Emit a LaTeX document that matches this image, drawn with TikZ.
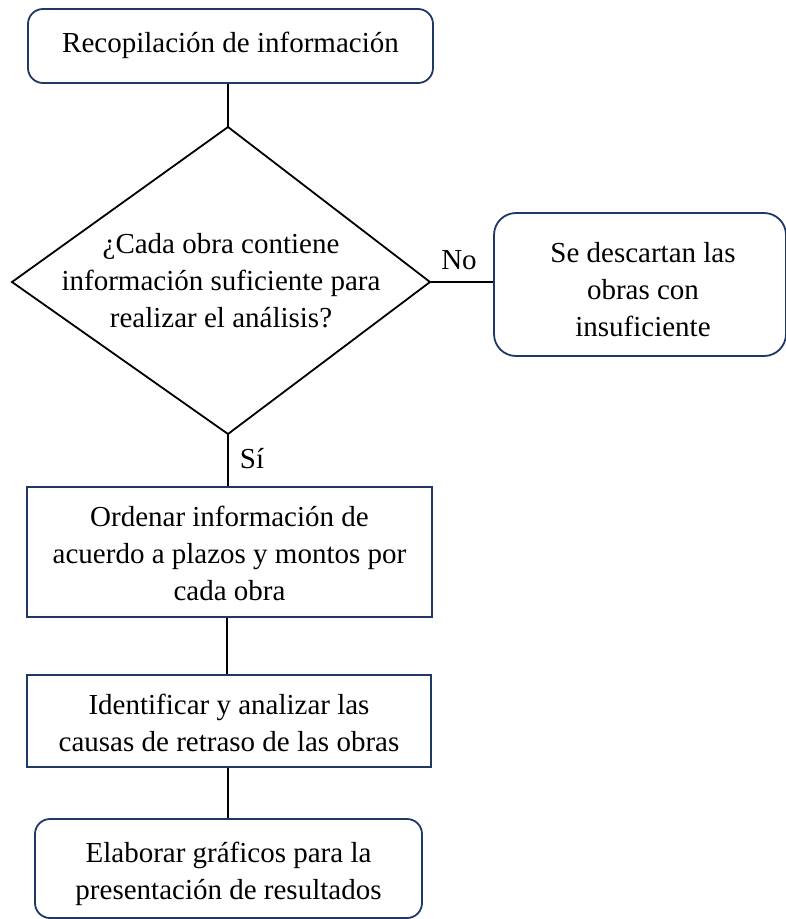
\documentclass[tikz,border=0pt]{standalone}
\usepackage{fontspec}
\setmainfont{Liberation Serif}
\definecolor{boxnavy}{RGB}{31,56,100}
\begin{document}
\begin{tikzpicture}[x=1pt,y=-1pt,
  txt/.style={font=\fontsize{29}{37}\selectfont, align=center, inner sep=0pt},
  roundbox/.style={draw=boxnavy, line width=1.8pt, rounded corners=15pt, rectangle, inner sep=0pt},
  sqbox/.style={draw=boxnavy, line width=1.8pt, rectangle, inner sep=0pt},
  conn/.style={draw=black, line width=1.8pt},
  lbl/.style={font=\fontsize{29}{37}\selectfont, inner sep=0pt}]
\useasboundingbox (0,0) rectangle (786,919);
% top box
\node[roundbox, minimum width=405pt, minimum height=74pt] (A) at (230.5,46) {};
\node[txt] (At) at (230.5,45) {Recopilación de información};
% diamond
\coordinate (dtop) at (228,127);
\coordinate (dleft) at (12,282);
\coordinate (dright) at (430,282);
\coordinate (dbot) at (228,434);
\draw[line width=1.8pt, line join=miter] (dtop) -- (dright) -- (dbot) -- (dleft) -- cycle;
\node[txt] (D) at (221,281) {¿Cada obra contiene\\información suficiente para\\realizar el análisis?};
% right box
\node[roundbox, minimum width=292pt, minimum height=143pt, rounded corners=22pt] (R) at (640,284.5) {};
\node[txt] (Rt) at (643,290) {Se descartan las\\obras con\\insuficiente};
% box B
\node[sqbox, minimum width=405pt, minimum height=130pt] (B) at (229.5,552) {};
\node[txt] (Bt) at (229.5,553) {Ordenar información de\\acuerdo a plazos y montos por\\cada obra};
% box C
\node[sqbox, minimum width=404pt, minimum height=92pt] (C) at (229,721) {};
\node[txt] (Ct) at (229,723) {Identificar y analizar las\\causas de retraso de las obras};
% box E
\node[roundbox, minimum width=387pt, minimum height=99pt] (E) at (228.5,868.5) {};
\node[txt] (Et) at (228.5,874) {Elaborar gráficos para la\\presentación de resultados};
% connectors
\draw[conn] (A.south -| dtop) -- (dtop);
\draw[conn] (dright) -- (R.west |- dright);
\draw[conn] (dbot) -- (B.north -| dbot);
\draw[conn] (B.south -| 227,0) -- (C.north -| 227,0);
\draw[conn] (C.south -| dbot) -- (E.north -| dbot);
% labels
\node[lbl] (No) at (459,260) {No};
\node[lbl] (Si) at (252,459) {Sí};
\end{tikzpicture}
\end{document}
